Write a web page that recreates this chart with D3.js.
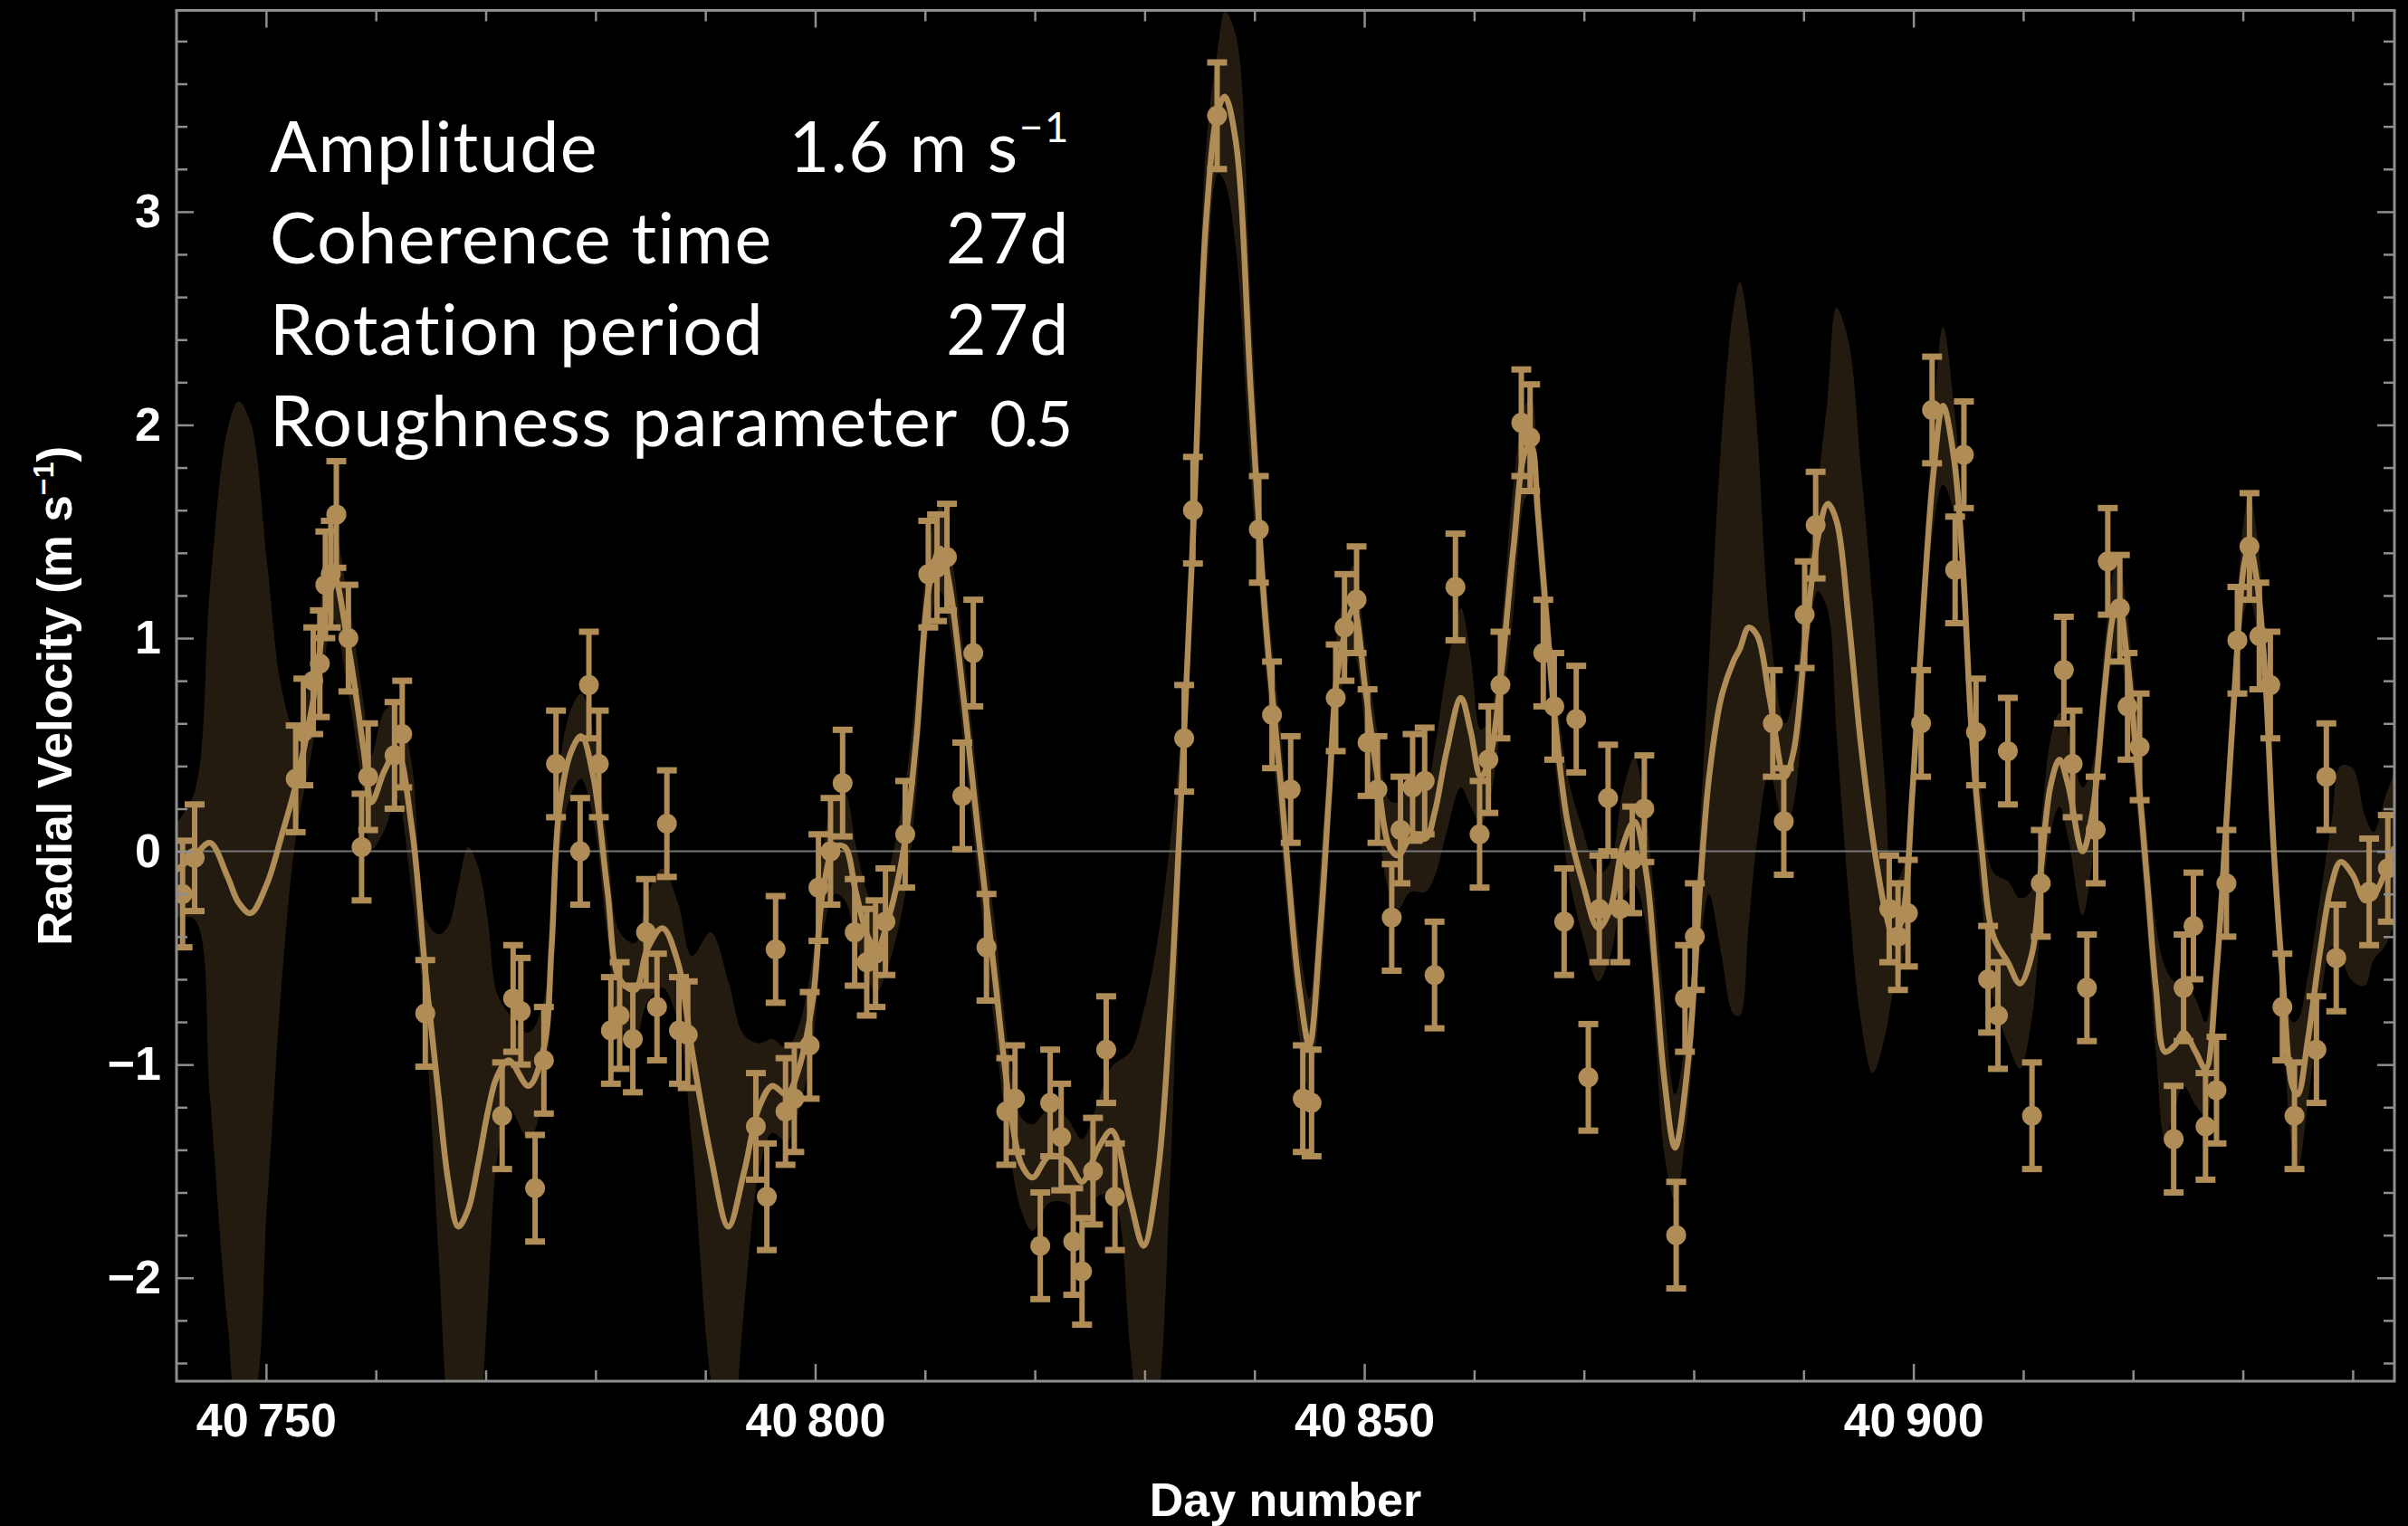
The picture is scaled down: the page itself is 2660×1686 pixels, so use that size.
<!DOCTYPE html>
<html>
<head>
<meta charset="utf-8">
<script src="https://cdn.jsdelivr.net/npm/d3@7"></script>
<style>
  html, body { margin: 0; padding: 0; background: #000; }
  svg { display: block; }
</style>
</head>
<body>
<svg id="chart" width="2660" height="1686"></svg>
<script>
// ---- Observed radial velocities (day number, m/s) ----
const rvDays = [
  40742.4, 40743.5, 40752.7, 40753.4, 40754.3, 40754.9, 40755.4, 40755.9, 40756.4, 40757.5,
  40758.7, 40759.3, 40761.7, 40762.4, 40764.5, 40771.5, 40772.5, 40773.2, 40774.5, 40775.3,
  40776.4, 40778.6, 40779.4, 40780.3, 40781.4, 40782.2, 40783.4, 40784.6, 40785.6, 40786.5,
  40787.6, 40788.4, 40794.6, 40795.6, 40796.4, 40797.3, 40798.1, 40799.5, 40800.3, 40801.4,
  40802.5, 40803.6, 40804.7, 40805.5, 40806.4, 40808.2, 40810.3, 40811.1, 40812.0, 40813.4,
  40814.4, 40815.6, 40817.4, 40818.2, 40820.5, 40821.4, 40822.4, 40823.5, 40824.3, 40825.3,
  40826.5, 40827.3, 40833.6, 40834.4, 40836.6, 40840.4, 40841.6, 40843.3, 40844.4, 40845.2,
  40847.4, 40848.2, 40849.3, 40850.3, 40851.2, 40852.5, 40853.3, 40854.4, 40855.5, 40856.4,
  40858.3, 40860.5, 40861.3, 40862.4, 40864.3, 40865.1, 40866.3, 40867.3, 40868.2, 40869.3,
  40870.4, 40871.4, 40872.2, 40873.3, 40874.4, 40875.5, 40878.4, 40879.2, 40880.1, 40887.2,
  40888.2, 40890.1, 40891.1, 40897.8, 40898.6, 40899.5, 40900.7, 40901.7, 40903.8, 40904.6,
  40905.7, 40906.8, 40907.7, 40908.6, 40910.8, 40911.6, 40913.7, 40914.5, 40915.8, 40916.6,
  40917.7, 40918.8, 40919.5, 40920.6, 40923.7, 40924.6, 40925.5, 40926.6, 40927.6, 40928.5,
  40929.5, 40930.6, 40931.5, 40932.5, 40933.6, 40934.7, 40936.7, 40937.6, 40938.5, 40941.5,
  40943.2
];
const rvValues = [
  -0.20, -0.03, 0.34, 0.56, 0.80, 0.88, 1.25, 1.30, 1.58, 1.00,
  0.02, 0.35, 0.45, 0.55, -0.76, -1.24, -0.69, -0.75, -1.58, -0.98,
  0.41, 0.00, 0.78, 0.41, -0.84, -0.77, -0.88, -0.38, -0.73, 0.13,
  -0.84, -0.86, -1.29, -1.62, -0.46, -1.22, -1.16, -0.91, -0.17, 0.00,
  0.32, -0.38, -0.52, -0.48, -0.33, 0.08, 1.30, 1.33, 1.38, 0.26,
  0.93, -0.45, -1.22, -1.16, -1.85, -1.18, -1.34, -1.83, -1.97, -1.50,
  -0.93, -1.62, 0.53, 1.60, 3.45, 1.51, 0.64, 0.29, -1.16, -1.18,
  0.72, 1.05, 1.18, 0.51, 0.29, -0.31, 0.10, 0.30, 0.33, -0.58,
  1.24, 0.08, 0.43, 0.78, 2.01, 1.94, 0.93, 0.68, -0.33, 0.62,
  -1.06, -0.27, 0.25, -0.27, -0.04, 0.20, -1.80, -0.69, -0.40, 0.60,
  0.14, 1.11, 1.53, -0.27, -0.40, -0.29, 0.60, 2.07, 1.32, 1.86,
  0.56, -0.60, -0.77, 0.47, -1.24, -0.15, 0.85, 0.41, -0.64, 0.10,
  1.36, 1.14, 0.68, 0.49, -1.35, -0.64, -0.35, -1.29, -1.12, -0.15,
  0.99, 1.43, 1.01, 0.78, -0.73, -1.24, -0.93, 0.35, -0.50, -0.19,
  -0.08
];
// one-sigma measurement uncertainty (m/s)
const rvSigma = 0.25;

// ---- Gaussian-process prediction: mean and half-width of the confidence band ----
const gpDays = [
  40741.8, 40743.5, 40744.9, 40746.5, 40747.5, 40748.6, 40750.1, 40751.4, 40752.7, 40754.2,
  40755.3, 40756.1, 40757.6, 40758.9, 40759.6, 40760.8, 40761.9, 40763.3, 40764.5, 40765.7,
  40766.6, 40767.5, 40768.4, 40769.3, 40770.2, 40771.0, 40772.1, 40773.9, 40775.3, 40776.0,
  40776.7, 40777.8, 40778.7, 40779.8, 40781.1, 40782.2, 40783.6, 40784.7, 40786.1, 40787.5,
  40788.8, 40790.5, 40792.1, 40793.5, 40794.9, 40796.1, 40797.4, 40798.5, 40799.8, 40800.7,
  40801.8, 40802.7, 40803.7, 40804.8, 40805.6, 40806.7, 40808.1, 40809.2, 40810.4, 40811.4,
  40812.2, 40813.6, 40814.9, 40816.3, 40817.7, 40818.8, 40819.8, 40821.3, 40822.9, 40824.3,
  40825.7, 40827.0, 40828.7, 40829.9, 40831.2, 40832.3, 40833.1, 40833.6, 40834.5, 40835.6,
  40836.7, 40837.3, 40838.3, 40839.7, 40841.0, 40842.4, 40843.5, 40844.1, 40845.0, 40846.0,
  40846.8, 40847.6, 40849.0, 40850.1, 40851.2, 40852.3, 40853.1, 40854.2, 40855.6, 40856.4,
  40857.5, 40858.8, 40859.7, 40860.6, 40861.4, 40862.5, 40863.6, 40864.7, 40865.2, 40865.8,
  40866.6, 40867.4, 40868.5, 40869.9, 40871.3, 40872.4, 40873.5, 40874.6, 40875.7, 40876.5,
  40877.3, 40878.3, 40879.5, 40880.6, 40881.4, 40882.5, 40883.6, 40884.2, 40885.0, 40885.8,
  40886.9, 40888.3, 40889.1, 40890.2, 40891.3, 40892.2, 40893.0, 40894.1, 40895.2, 40896.3,
  40897.4, 40898.2, 40899.0, 40899.9, 40900.7, 40901.8, 40902.7, 40903.7, 40904.5, 40905.3,
  40906.2, 40907.3, 40908.6, 40909.7, 40910.8, 40911.7, 40912.5, 40913.3, 40914.1, 40915.4,
  40916.3, 40917.4, 40918.3, 40918.7, 40919.4, 40920.2, 40921.3, 40922.1, 40922.9, 40923.8,
  40924.6, 40925.7, 40926.6, 40927.6, 40928.4, 40929.3, 40930.1, 40930.6, 40931.3, 40932.0,
  40932.8, 40933.7, 40934.5, 40935.0, 40935.9, 40937.0, 40938.1, 40938.9, 40940.0, 40941.1,
  40941.9, 40943.0, 40943.8
];
const gpMean = [
  -0.09, -0.02, 0.04, -0.12, -0.24, -0.29, -0.15, 0.07, 0.31, 0.68,
  1.09, 1.31, 0.93, 0.47, 0.23, 0.38, 0.47, 0.10, -0.56, -1.14,
  -1.55, -1.76, -1.68, -1.47, -1.22, -1.06, -0.98, -1.10, -0.92, -0.45,
  0.20, 0.47, 0.54, 0.35, -0.19, -0.60, -0.65, -0.46, -0.36, -0.52,
  -0.94, -1.43, -1.76, -1.51, -1.20, -1.10, -1.14, -1.02, -0.69, -0.19,
  0.02, 0.02, -0.19, -0.40, -0.46, -0.31, 0.02, 0.52, 1.25, 1.42,
  1.26, 0.68, 0.06, -0.56, -1.18, -1.47, -1.53, -1.43, -1.45, -1.55,
  -1.40, -1.31, -1.64, -1.85, -1.51, -0.77, 0.02, 0.56, 1.59, 2.96,
  3.48, 3.54, 3.33, 2.13, 1.09, 0.31, -0.36, -0.65, -0.91, -0.36,
  0.27, 0.85, 1.14, 0.76, 0.35, 0.02, -0.02, 0.06, 0.06, 0.18,
  0.47, 0.72, 0.56, 0.35, 0.43, 0.85, 1.43, 1.88, 1.90, 1.59,
  1.09, 0.60, 0.14, -0.15, -0.36, -0.27, 0.02, 0.14, -0.11, -0.56,
  -1.06, -1.39, -0.98, -0.15, 0.35, 0.72, 0.89, 0.95, 1.05, 1.01,
  0.72, 0.35, 0.47, 1.01, 1.47, 1.63, 1.55, 1.09, 0.51, 0.06,
  -0.27, -0.40, -0.31, 0.27, 0.97, 1.76, 2.09, 1.84, 1.34, 0.56,
  0.02, -0.40, -0.52, -0.62, -0.48, -0.04, 0.31, 0.43, 0.31, 0.00,
  0.18, 0.76, 1.13, 1.16, 0.93, 0.51, -0.15, -0.65, -0.94, -0.91,
  -0.85, -0.94, -1.02, -0.56, 0.06, 0.80, 1.34, 1.43, 1.26, 0.85,
  0.02, -0.65, -1.10, -1.14, -0.89, -0.48, -0.15, -0.05, -0.11, -0.23,
  -0.21, -0.09, 0.02
];
const gpSpread = [
  0.22, 0.30, 1.20, 2.10, 2.35, 2.30, 1.50, 0.70, 0.25, 0.20,
  0.20, 0.22, 0.22, 0.22, 0.22, 0.28, 0.22, 0.30, 0.25, 0.75,
  1.20, 1.60, 1.70, 1.40, 0.90, 0.40, 0.22, 0.25, 0.22, 0.22,
  0.20, 0.20, 0.20, 0.20, 0.22, 0.22, 0.22, 0.25, 0.28, 0.28,
  0.45, 1.05, 1.15, 0.65, 0.30, 0.22, 0.22, 0.20, 0.20, 0.20,
  0.22, 0.25, 0.22, 0.20, 0.20, 0.22, 0.25, 0.25, 0.20, 0.20,
  0.20, 0.22, 0.22, 0.25, 0.22, 0.22, 0.25, 0.22, 0.20, 0.20,
  0.22, 0.30, 0.70, 1.10, 1.10, 0.80, 0.40, 0.22, 0.22, 0.35,
  0.30, 0.40, 0.50, 0.40, 0.22, 0.25, 0.22, 0.22, 0.22, 0.30,
  0.25, 0.20, 0.20, 0.20, 0.20, 0.22, 0.25, 0.25, 0.25, 0.30,
  0.38, 0.42, 0.35, 0.22, 0.20, 0.22, 0.30, 0.22, 0.22, 0.22,
  0.22, 0.20, 0.22, 0.25, 0.25, 0.22, 0.25, 0.30, 0.25, 0.30,
  0.35, 0.25, 0.22, 0.30, 0.55, 1.20, 1.65, 1.72, 1.40, 0.95,
  0.35, 0.25, 0.25, 0.22, 0.25, 0.50, 1.00, 1.30, 1.30, 1.10,
  0.60, 0.25, 0.22, 0.20, 0.20, 0.25, 0.37, 0.25, 0.20, 0.22,
  0.25, 0.30, 0.38, 0.40, 0.30, 0.22, 0.22, 0.22, 0.25, 0.30,
  0.22, 0.20, 0.20, 0.22, 0.22, 0.22, 0.22, 0.30, 0.40, 0.30,
  0.25, 0.25, 0.22, 0.22, 0.20, 0.20, 0.22, 0.25, 0.22, 0.20,
  0.20, 0.22, 0.30, 0.35, 0.30, 0.25, 0.30, 0.45, 0.50, 0.40,
  0.30, 0.35, 0.35
];

// ---- Axes ----
const xDomain = [40741.85, 40943.8];
const yDomain = [-2.485, 3.944];
const xMajorTicks = [40750, 40800, 40850, 40900];
const yMajorTicks = [-2, -1, 0, 1, 2, 3];
const xTickLabels = ["40\u2009750", "40\u2009800", "40\u2009850", "40\u2009900"];
const yTickLabels = ["\u22122", "\u22121", "0", "1", "2", "3"];

// ---- Kernel hyperparameters shown in the annotation ----
const paramNames = ["Amplitude", "Coherence time", "Rotation period", "Roughness parameter"];
const paramValues = ["1.6 m s", "27d", "27d", "0.5"];
const paramSuperscripts = ["\u22121", "", "", ""];

// ---- Layout ----
const W = 2660, H = 1686;
const plot = { left: 195, right: 2645, top: 11.5, bottom: 1526 };
const accent = "#b08c56";
const bandFill = "#231a10";
const frameColor = "#8e8e8e";
const tickFont = "'Liberation Sans', Arial, Helvetica, sans-serif";

const x = d3.scaleLinear().domain(xDomain).range([plot.left, plot.right]);
const y = d3.scaleLinear().domain(yDomain).range([plot.bottom, plot.top]);

const svg = d3.select("#chart");
svg.append("rect").attr("width", W).attr("height", H).attr("fill", "#000");

svg.append("defs").append("clipPath").attr("id", "plotClip")
  .append("rect")
  .attr("x", plot.left).attr("y", plot.top)
  .attr("width", plot.right - plot.left).attr("height", plot.bottom - plot.top);

const gp = gpDays.map((d, i) => ({ day: d, mean: gpMean[i], spread: gpSpread[i] }));
const smooth = d3.curveCatmullRom.alpha(0.5);

const inner = svg.append("g").attr("clip-path", "url(#plotClip)");

// confidence band
inner.append("path")
  .datum(gp)
  .attr("fill", bandFill)
  .attr("d", d3.area()
    .x(d => x(d.day))
    .y0(d => y(d.mean - d.spread))
    .y1(d => y(d.mean + d.spread))
    .curve(smooth));

// zero reference line
inner.append("line")
  .attr("x1", plot.left).attr("x2", plot.right)
  .attr("y1", y(0)).attr("y2", y(0))
  .attr("stroke", "#767676").attr("stroke-width", 2);

// predicted mean
inner.append("path")
  .datum(gp)
  .attr("fill", "none")
  .attr("stroke", accent)
  .attr("stroke-width", 6.5)
  .attr("stroke-linejoin", "round")
  .attr("d", d3.line().x(d => x(d.day)).y(d => y(d.mean)).curve(smooth));

// observations with error bars
const obs = rvDays.map((d, i) => ({ day: d, v: rvValues[i] }));
const pts = inner.append("g").selectAll("g").data(obs).join("g");
const capHalf = 11;
pts.append("line")
  .attr("x1", d => x(d.day)).attr("x2", d => x(d.day))
  .attr("y1", d => y(d.v - rvSigma)).attr("y2", d => y(d.v + rvSigma))
  .attr("stroke", accent).attr("stroke-width", 6);
pts.append("line")
  .attr("x1", d => x(d.day) - capHalf).attr("x2", d => x(d.day) + capHalf)
  .attr("y1", d => y(d.v + rvSigma)).attr("y2", d => y(d.v + rvSigma))
  .attr("stroke", accent).attr("stroke-width", 7);
pts.append("line")
  .attr("x1", d => x(d.day) - capHalf).attr("x2", d => x(d.day) + capHalf)
  .attr("y1", d => y(d.v - rvSigma)).attr("y2", d => y(d.v - rvSigma))
  .attr("stroke", accent).attr("stroke-width", 7);
pts.append("circle")
  .attr("cx", d => x(d.day)).attr("cy", d => y(d.v))
  .attr("r", 11).attr("fill", accent);

// ---- Frame with inward ticks on all four sides ----
const xMinor = d3.range(40750, 40944, 10).filter(v => !xMajorTicks.includes(v));
const yMinor = d3.range(-24, 40, 2).map(v => v / 10).filter(v => !yMajorTicks.includes(v) && v > yDomain[0] && v < yDomain[1]);
const majorLen = 19, minorLen = 12;

function styleAxis(g) {
  g.select(".domain").remove();
  g.selectAll(".tick line").attr("stroke", frameColor).attr("stroke-width", 2.5);
}

const fmtX = d => xTickLabels[xMajorTicks.indexOf(d)];
const fmtY = d => yTickLabels[yMajorTicks.indexOf(d)];

// bottom
svg.append("g").attr("transform", `translate(0,${plot.bottom})`)
  .call(d3.axisBottom(x).tickValues(xMinor).tickSize(-minorLen).tickFormat(""))
  .call(styleAxis);
const bottomAxis = svg.append("g").attr("transform", `translate(0,${plot.bottom})`)
  .call(d3.axisBottom(x).tickValues(xMajorTicks).tickSize(-majorLen).tickPadding(24).tickFormat(fmtX))
  .call(styleAxis);
// top
svg.append("g").attr("transform", `translate(0,${plot.top})`)
  .call(d3.axisTop(x).tickValues(xMinor).tickSize(-minorLen).tickFormat(""))
  .call(styleAxis);
svg.append("g").attr("transform", `translate(0,${plot.top})`)
  .call(d3.axisTop(x).tickValues(xMajorTicks).tickSize(-majorLen).tickFormat(""))
  .call(styleAxis);
// left
svg.append("g").attr("transform", `translate(${plot.left},0)`)
  .call(d3.axisLeft(y).tickValues(yMinor).tickSize(-minorLen).tickFormat(""))
  .call(styleAxis);
const leftAxis = svg.append("g").attr("transform", `translate(${plot.left},0)`)
  .call(d3.axisLeft(y).tickValues(yMajorTicks).tickSize(-majorLen).tickPadding(17).tickFormat(fmtY))
  .call(styleAxis);
// right
svg.append("g").attr("transform", `translate(${plot.right},0)`)
  .call(d3.axisRight(y).tickValues(yMinor).tickSize(-minorLen).tickFormat(""))
  .call(styleAxis);
svg.append("g").attr("transform", `translate(${plot.right},0)`)
  .call(d3.axisRight(y).tickValues(yMajorTicks).tickSize(-majorLen).tickFormat(""))
  .call(styleAxis);

[bottomAxis, leftAxis].forEach(a => a.selectAll(".tick text")
  .attr("fill", "#fff")
  .attr("font-family", tickFont)
  .attr("font-weight", "bold")
  .attr("font-size", 52));

svg.append("rect")
  .attr("x", plot.left).attr("y", plot.top)
  .attr("width", plot.right - plot.left).attr("height", plot.bottom - plot.top)
  .attr("fill", "none").attr("stroke", frameColor).attr("stroke-width", 3);

// ---- Axis titles ----
svg.append("text")
  .attr("x", (plot.left + plot.right) / 2).attr("y", 1675)
  .attr("text-anchor", "middle")
  .attr("fill", "#fff").attr("font-family", tickFont).attr("font-weight", "bold").attr("font-size", 52)
  .text("Day number");

const yTitle = svg.append("text")
  .attr("transform", `translate(79,${(plot.top + plot.bottom) / 2}) rotate(-90)`)
  .attr("text-anchor", "middle")
  .attr("fill", "#fff").attr("font-family", tickFont).attr("font-weight", "bold").attr("font-size", 53);
yTitle.append("tspan").text("Radial Velocity (m s");
yTitle.append("tspan").attr("font-size", 32).attr("dy", -20).text("\u22121");
yTitle.append("tspan").attr("dy", 20).text(")");

// ---- Hyperparameter annotation ----
const annot = svg.append("g")
  .attr("fill", "#fff")
  .attr("font-family", "Lato, 'Open Sans', sans-serif")
  .attr("font-size", 77)
  .attr("letter-spacing", 1.5);
const rowBase = [190, 291, 392, 493];
paramNames.forEach((name, i) => {
  annot.append("text").attr("x", 298).attr("y", rowBase[i]).text(name);
  const t = annot.append("text").attr("x", 1182).attr("y", rowBase[i]).attr("text-anchor", "end");
  const v = t.append("tspan").text(paramValues[i]);
  // the bare number in the last row is set narrower so the row keeps its word gap
  if (paramValues[i] === "0.5") t.attr("letter-spacing", -3).attr("font-size", 70);
  if (paramSuperscripts[i]) {
    t.append("tspan").attr("font-size", 46).attr("dy", -33).text(paramSuperscripts[i]);
  }
});
</script>
</body>
</html>
